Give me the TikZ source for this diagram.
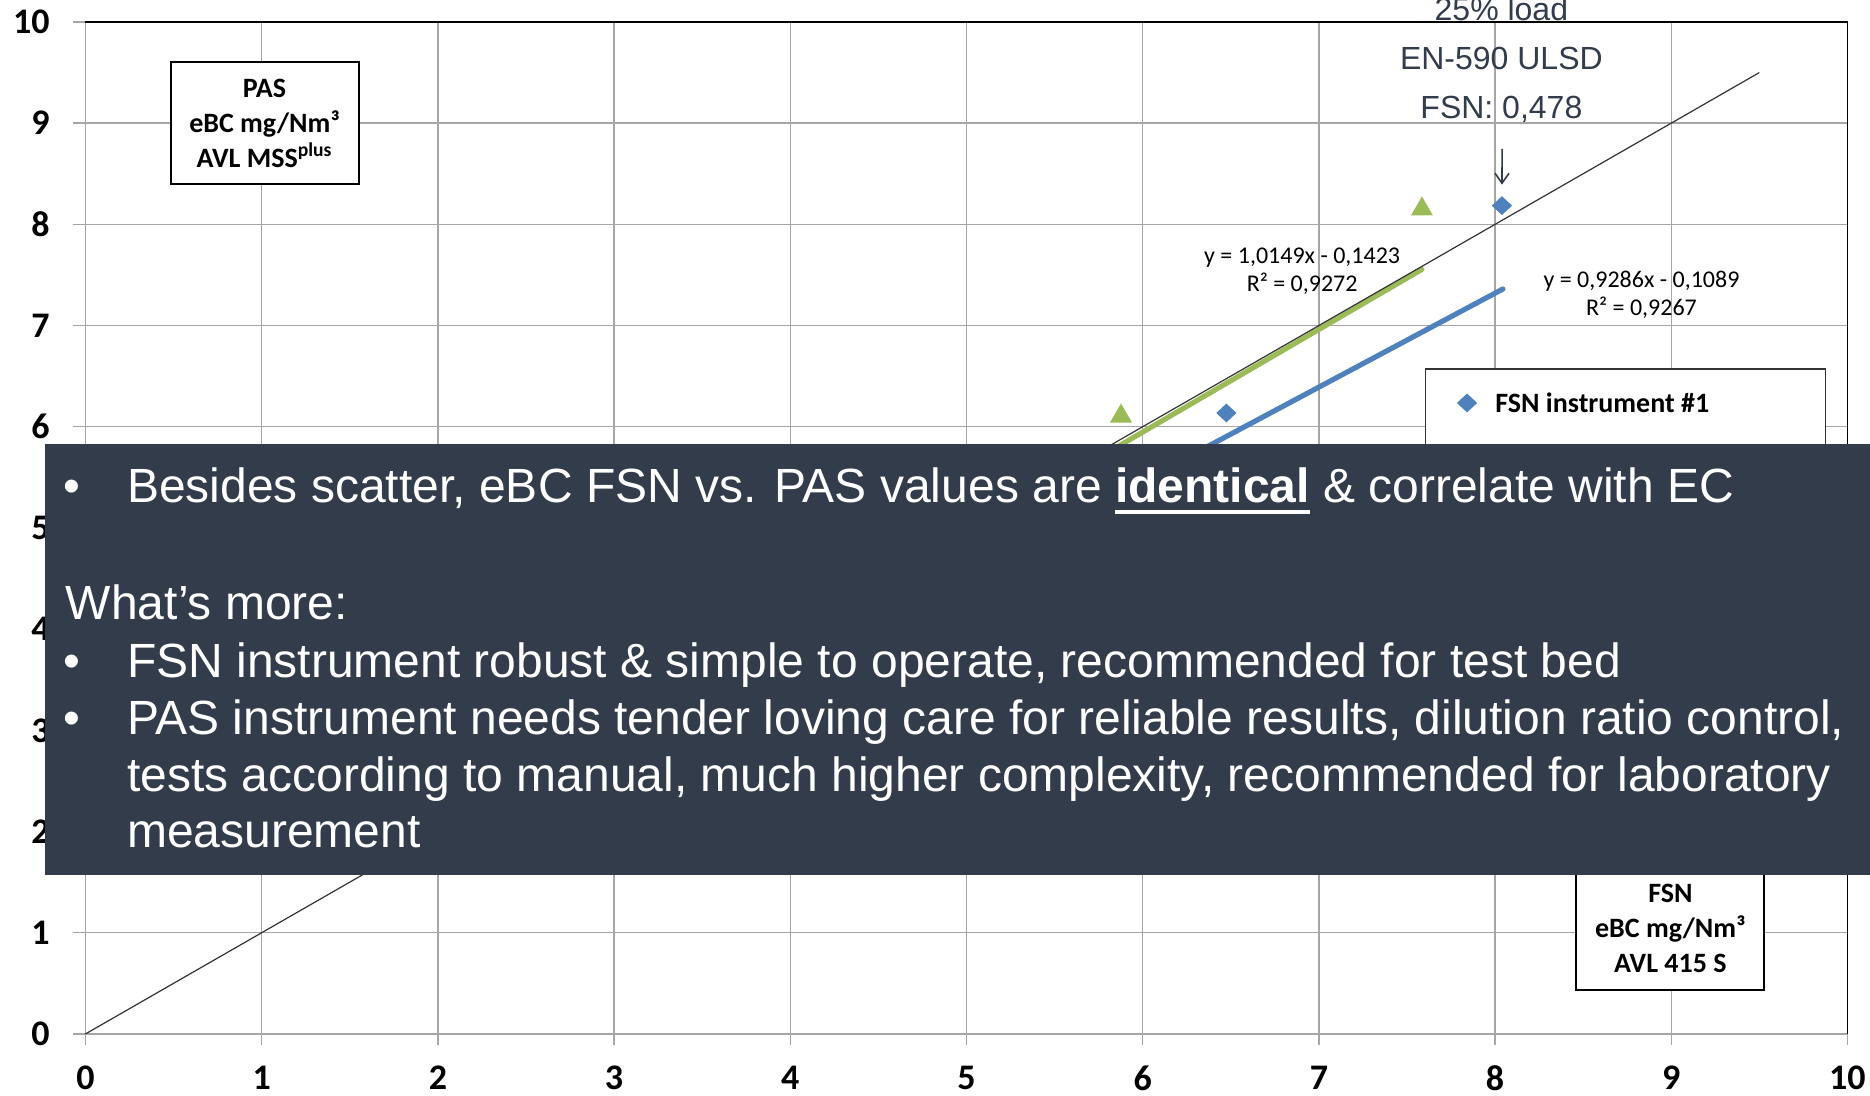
\documentclass[tikz,border=0pt]{standalone}
\usepackage{fontspec}
\setmainfont{Carlito}
\newfontfamily\arialfont{Liberation Sans}
\usetikzlibrary{arrows.meta,shapes.geometric}
\definecolor{slate}{HTML}{323C4B}
\definecolor{fsnblue}{HTML}{4F81BD}
\definecolor{pasgreen}{HTML}{9BBB59}
\definecolor{gridgray}{HTML}{A6A6A6}
\newcommand{\thickul}[1]{\vtop{\hbox{#1}\kern3.5pt\hrule height 2pt}}
\tikzset{
  tick label/.style={inner sep=0pt, font=\bfseries\fontsize{18}{21}\selectfont},
  unit box/.style={draw, line width=1pt, fill=white, minimum width=94pt, minimum height=61pt,
    align=center, inner sep=0pt, font=\bfseries\fontsize{14}{17.5}\selectfont},
  eq label/.style={align=center, inner sep=0pt, font=\fontsize{12}{14}\selectfont},
  fsn mark/.style={diamond, fill=fsnblue, minimum width=10.3pt, minimum height=9.6pt, inner sep=0pt},
  pas mark/.style={regular polygon, regular polygon sides=3, fill=pasgreen, minimum size=12.7pt,
    inner sep=0pt, yshift=-1.6pt},
  slide line/.style={anchor=base west, inner sep=0pt, text=white, font=\arialfont\fontsize{24}{28}\selectfont},
  title line/.style={anchor=base, inner sep=0pt, text=slate, font=\arialfont\fontsize{16}{19}\selectfont}
}
\begin{document}
\begin{tikzpicture}[x=88.1pt, y=50.6pt]
\useasboundingbox (-0.4852,-0.6126) rectangle (10.128,10.217);
\foreach \x in {0,...,10}{
  \draw [gridgray, line width=0.75pt] (\x,-0.109) -- (\x,10);
}
\foreach \y in {1,...,10}{
  \draw [gridgray, line width=0.75pt] (-0.0726,\y) -- (10,\y);
}
\draw [gridgray, line width=1.2pt] (-0.0726,0) -- (10,0);
\draw [black, line width=0.6pt] (0,10) -- (10,10) -- (10,0);
\foreach \y in {0,...,10}{
  \node [tick label, anchor=east] (ylab\y) at (-0.2015,\y) {\y};
}
\foreach \x in {0,...,10}{
  \node [tick label] (xlab\x) at (\x,-0.435) {\x};
}
\draw [pasgreen, line width=2.6pt, line cap=round] plot [domain=2:7.585] (\x,{1.0149*\x-0.1423});
\draw [fsnblue, line width=2.6pt, line cap=round] plot [domain=2:8.045] (\x,{0.9286*\x-0.1089});
\draw [black!80, line width=0.6pt] (0,0) -- (9.5,9.5);
\node [pas mark] (pas1) at (5.877,6.136) {};
\node [pas mark] (pas2) at (7.585,8.182) {};
\node [fsn mark] (fsn1) at (6.475,6.136) {};
\node [fsn mark] (fsn2) at (8.039,8.185) {};
\node [eq label] (pasfit) at (6.905,7.540) {y = 1,0149x - 0,1423\\R² = 0,9272};
\node [eq label] (fsnfit) at (8.831,7.307) {y = 0,9286x - 0,1089\\R² = 0,9267};
\draw [black!80, line width=0.75pt, fill=white] (7.606,5.079) rectangle (9.875,6.571);
\node [fsn mark] (legmark) at (7.841,6.235) {};
\node [anchor=west, inner sep=0pt, font=\bfseries\fontsize{14}{17}\selectfont] (legtext) at (8.000,6.235) {FSN instrument \#1};
\node [unit box] (pasbox) at (1.016,9.0) {PAS\\eBC mg/Nm³\\AVL MSS\textsuperscript{plus}};
\node [unit box] (fsnbox) at (8.995,1.038) {FSN\\eBC mg/Nm³\\AVL 415 S};
\node [title line] (load) at (8.036,10.015) {25\% load};
\node [title line] (fuel) at (8.036,9.532) {EN-590 ULSD};
\node [title line] (fsnval) at (8.036,9.047) {FSN: 0,478};
\coordinate (arrowtop) at (8.04,8.745);
\draw [slate, line width=0.8pt, -{Straight Barb[length=5pt,width=7pt]}, shorten >=5.5pt] (arrowtop) -- (fsn2.north);
\fill [slate] (-0.2321,1.571) rectangle (10.128,5.830);
\node [slide line, anchor=base] (dot1) at (-0.0749,5.247) {•};
\node [slide line] (point1) at (0.2344,5.247) {Besides scatter, eBC FSN vs. PAS values are \thickul{\bfseries identical} \& correlate with EC};
\node [slide line] (more) at (-0.1129,4.091) {What’s more:};
\node [slide line, anchor=base] (dot2) at (-0.0749,3.518) {•};
\node [slide line] (point2) at (0.2344,3.518) {FSN instrument robust \& simple to operate, recommended for test bed};
\node [slide line, anchor=base] (dot3) at (-0.0749,2.955) {•};
\node [slide line] (point3) at (0.2344,2.955) {PAS instrument needs tender loving care for reliable results, dilution ratio control,};
\node [slide line] (point3b) at (0.2344,2.394) {tests according to manual, much higher complexity, recommended for laboratory};
\node [slide line] (point3c) at (0.2344,1.838) {measurement};
\end{tikzpicture}
\end{document}
